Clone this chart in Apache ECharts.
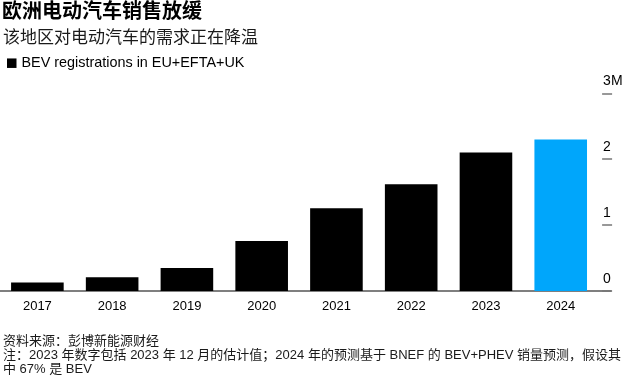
<!DOCTYPE html>
<html>
<head>
<meta charset="utf-8">
<script src="https://cdn.jsdelivr.net/npm/echarts@6/dist/echarts.min.js"></script>
<style>
html,body{margin:0;padding:0;background:#fff;}
#chart{width:630px;height:380px;}
</style>
</head>
<body>
<div id="chart"></div>
<script>
// Data
const categories = ['2017', '2018', '2019', '2020', '2021', '2022', '2023', '2024'];
const bevRegistrations = [0.13, 0.21, 0.35, 0.76, 1.255, 1.62, 2.10, 2.30]; // millions
const yTickLabels = ['0', '1', '2', '3M'];
const seriesName = 'BEV registrations in EU+EFTA+UK';
const titleText = '欧洲电动汽车销售放缓';
const subtitleText = '该地区对电动汽车的需求正在降温';
const footerLines = [
  '资料来源：彭博新能源财经',
  '注：2023 年数字包括 2023 年 12 月的估计值；2024 年的预测基于 BNEF 的 BEV+PHEV 销量预测，假设其',
  '中 67% 是 BEV'
];

const FONT = "'Liberation Sans', 'Noto Sans CJK SC', sans-serif";
const forecastIndex = categories.length - 1;

const chart = echarts.init(document.getElementById('chart'), null, {renderer: 'canvas'});
chart.setOption({
  backgroundColor: '#ffffff',
  animation: false,
  title: [
    {
      text: titleText, left: 2, top: 0.5, padding: 0,
      textStyle: {fontFamily: FONT, fontSize: 20, fontWeight: 'bold', color: '#000', lineHeight: 24}
    },
    {
      text: subtitleText, left: 3, top: 28, padding: 0,
      textStyle: {fontFamily: FONT, fontSize: 17, fontWeight: 'normal', color: '#1a1a1a', lineHeight: 20}
    },
    {
      text: footerLines.join('\n'), left: 3, top: 334, padding: 0,
      textStyle: {fontFamily: FONT, fontSize: 13, fontWeight: 'normal', color: '#1a1a1a', lineHeight: 14}
    }
  ],
  legend: {
    left: 7, top: 56, padding: 0,
    icon: 'rect', itemWidth: 9.5, itemHeight: 9.5, itemGap: 10,
    selectedMode: false,
    textStyle: {fontFamily: FONT, fontSize: 14.4, color: '#000', padding: [0, 0, 0, 0]},
    data: [{name: seriesName, itemStyle: {color: '#000'}}]
  },
  grid: [
    {left: -7.5, width: 605.6, top: 93.3, bottom: 89, containLabel: false},
    {left: 0, right: 19, top: 93.3, bottom: 89, containLabel: false}
  ],
  xAxis: [
    {
      type: 'category', gridIndex: 0, data: categories,
      axisLine: {show: false}, axisTick: {show: false},
      axisLabel: {fontFamily: FONT, fontSize: 13, color: '#000', margin: 9}
    },
    {
      type: 'value', gridIndex: 1, min: 0, max: 1,
      axisLine: {show: true, lineStyle: {color: '#555', width: 1.5}},
      axisTick: {show: false}, axisLabel: {show: false}, splitLine: {show: false}
    }
  ],
  yAxis: [
    {
      type: 'value', gridIndex: 0, position: 'right', offset: 4,
      min: 0, max: 3, interval: 1,
      axisLine: {show: false},
      axisTick: {show: true, inside: false, length: 10, lineStyle: {color: '#777', width: 1.5}},
      splitLine: {show: false},
      axisLabel: {
        fontFamily: FONT, fontSize: 14, color: '#000', margin: 1,
        align: 'left', verticalAlign: 'bottom', padding: [0, 0, 5, 0],
        formatter: function (v) { return yTickLabels[Math.round(v)]; }
      }
    },
    {
      type: 'value', gridIndex: 1, show: false, min: 0, max: 1
    }
  ],
  series: [
    {
      name: seriesName, type: 'bar', xAxisIndex: 0, yAxisIndex: 0,
      barWidth: 52.6,
      itemStyle: {color: '#000'},
      data: bevRegistrations.map(function (v, i) {
        return i === forecastIndex ? {value: v, itemStyle: {color: '#00a6fb'}} : v;
      })
    }
  ]
});
</script>
</body>
</html>
